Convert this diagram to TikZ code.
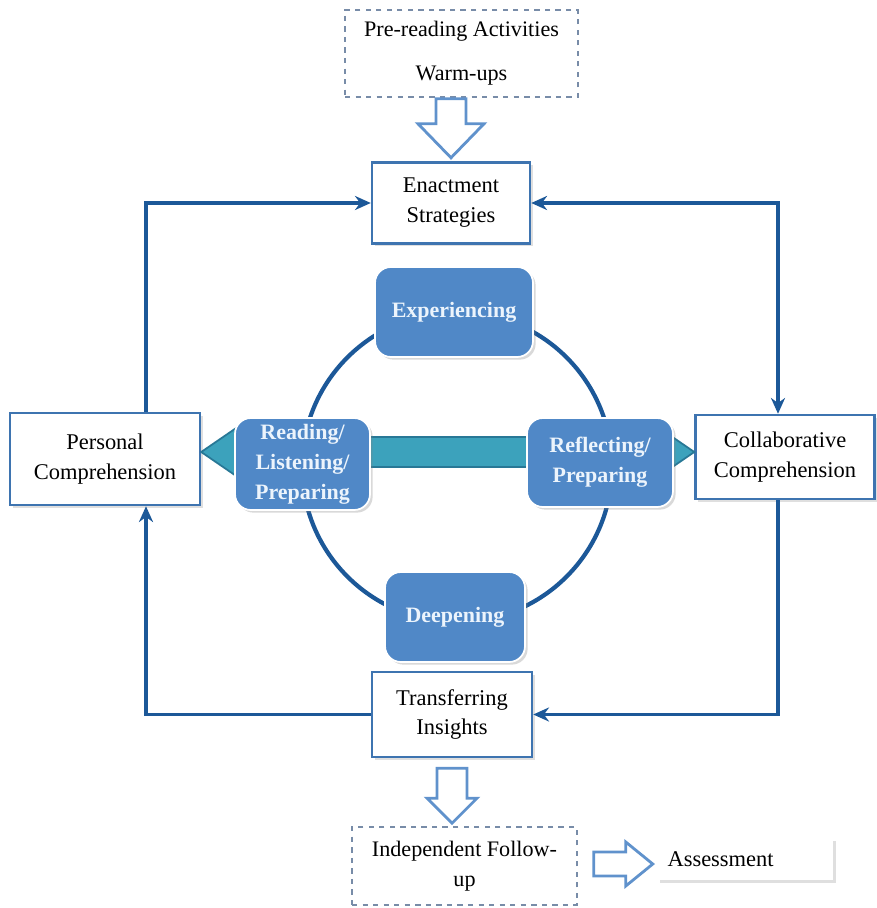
\documentclass[tikz,border=0pt]{standalone}
\usepackage{fontspec}
\setmainfont{Liberation Serif}
\usetikzlibrary{positioning,calc,shadows,arrows.meta}
\definecolor{boxedge}{RGB}{62,116,176}
\definecolor{stagefill}{RGB}{80,136,199}
\definecolor{stagetext}{RGB}{236,244,252}
\definecolor{linkblue}{RGB}{28,88,152}
\definecolor{flowteal}{RGB}{60,162,188}
\definecolor{flowedge}{RGB}{40,120,150}
\definecolor{hollowblue}{RGB}{96,146,204}
\definecolor{dashgray}{RGB}{120,140,168}
\tikzset{
  textbox/.style={draw=boxedge, line width=1.4pt, fill=white, align=center,
    font=\fontsize{12.8}{17}\selectfont, inner sep=0pt,
    drop shadow={opacity=0.25, shadow xshift=1.5pt, shadow yshift=-1.5pt}},
  dashbox/.style={draw=dashgray, dashed, line width=0.9pt, fill=white, align=center,
    font=\fontsize{12.6}{17}\selectfont, inner sep=0pt},
  stage/.style={fill=stagefill, draw=white, line width=1pt, rounded corners=9pt,
    text=stagetext, align=center, font=\fontsize{12.5}{17}\selectfont\bfseries, inner sep=0pt,
    drop shadow={opacity=0.3, shadow xshift=1.5pt, shadow yshift=-1.5pt}},
  link/.style={draw=linkblue, line width=1.8pt},
  hollow/.style={fill=white, draw=hollowblue, line width=1.6pt, line join=miter},
  flow/.style={fill=flowteal, draw=flowedge, line width=1pt, line join=miter}
}
\begin{document}
\begin{tikzpicture}[x=0.02cm,y=-0.02cm,>={Stealth[length=9pt,width=8pt]}]
\useasboundingbox (0,0) rectangle (876,908);
% Boxes round the cycle
\node[dashbox, minimum width=4.66cm, minimum height=1.74cm] (pre) at (461.5,53.5)
  {Pre-reading Activities\\[0.28cm] Warm-ups};
\node[textbox, minimum width=3.16cm, minimum height=1.62cm] (enact) at (451,203) {Enactment\\Strategies};
\node[textbox, minimum width=3.8cm, minimum height=1.84cm] (pers) at (105,459) {Personal\\Comprehension};
\node[textbox, minimum width=3.58cm, minimum height=1.68cm] (collab) at (785,457) {Collaborative\\Comprehension};
\node[textbox, minimum width=3.2cm, minimum height=1.7cm] (transfer) at (452,714.5) {Transferring\\Insights};
\node[dashbox, minimum width=4.5cm, minimum height=1.56cm] (follow) at (464.5,866) {Independent Follow-\\up};
\node[textbox, draw=none, minimum width=3.52cm, minimum height=0.84cm, text width=3.1cm, align=left] (assess) at (745,859) {Assessment};
% Ring
\coordinate (hub) at (457,467);
\draw[linkblue, line width=2.4pt] (hub) circle (3.1cm);
% Teal double arrow
\coordinate (fl) at (pers.east |- 0,452);
\coordinate (fr) at (collab.west |- 0,452);
\filldraw[flow] (fl) -- ++(35,-24) -- ++(0,9) -- ($(fr)+(-35,-15)$) -- ++(0,-9) -- (fr)
  -- ++(-35,24) -- ++(0,-9) -- ($(fl)+(35,15)$) -- ++(0,9) -- cycle;
% Stages
\node[stage, minimum width=3.16cm, minimum height=1.8cm] (exp) at (454,312) {Experiencing};
\node[stage, minimum width=2.7cm, minimum height=1.84cm] (read) at (302.5,464) {Reading/\\Listening/\\Preparing};
\node[stage, minimum width=2.92cm, minimum height=1.78cm] (refl) at (600,462.5) {Reflecting/\\Preparing};
\node[stage, minimum width=2.8cm, minimum height=1.8cm] (deep) at (455,617) {Deepening};
% Loop connectors
\coordinate (lt) at (146,0);
\coordinate (rt) at (778,0);
\draw[link,->] (pers.north -| lt) |- (enact.west);
\draw[link,<->] (enact.east) -| (collab.north -| rt);
\draw[link,->] (collab.south -| rt) |- (transfer.east);
\draw[link,->] (transfer.west) -| (pers.south -| lt);
% Hollow arrows
\coordinate (a1) at (enact.north |- pre.south);
\filldraw[hollow] ($(a1)+(-15,1)$) -- ++(30,0) -- ++(0,25) -- ++(18,0) -- ++(-33,34) -- ++(-33,-34) -- ++(18,0) -- cycle;
\coordinate (a2) at (transfer.south);
\filldraw[hollow] ($(a2)+(-15,10)$) -- ++(30,0) -- ++(0,30) -- ++(10,0) -- ++(-25,25) -- ++(-25,-25) -- ++(10,0) -- cycle;
\filldraw[hollow] ($(follow.east)+(16,-14)$) -- ++(32,0) -- ++(0,-10) -- ++(27,22) -- ++(-27,22) -- ++(0,-10) -- ++(-32,0) -- cycle;
\end{tikzpicture}
\end{document}
